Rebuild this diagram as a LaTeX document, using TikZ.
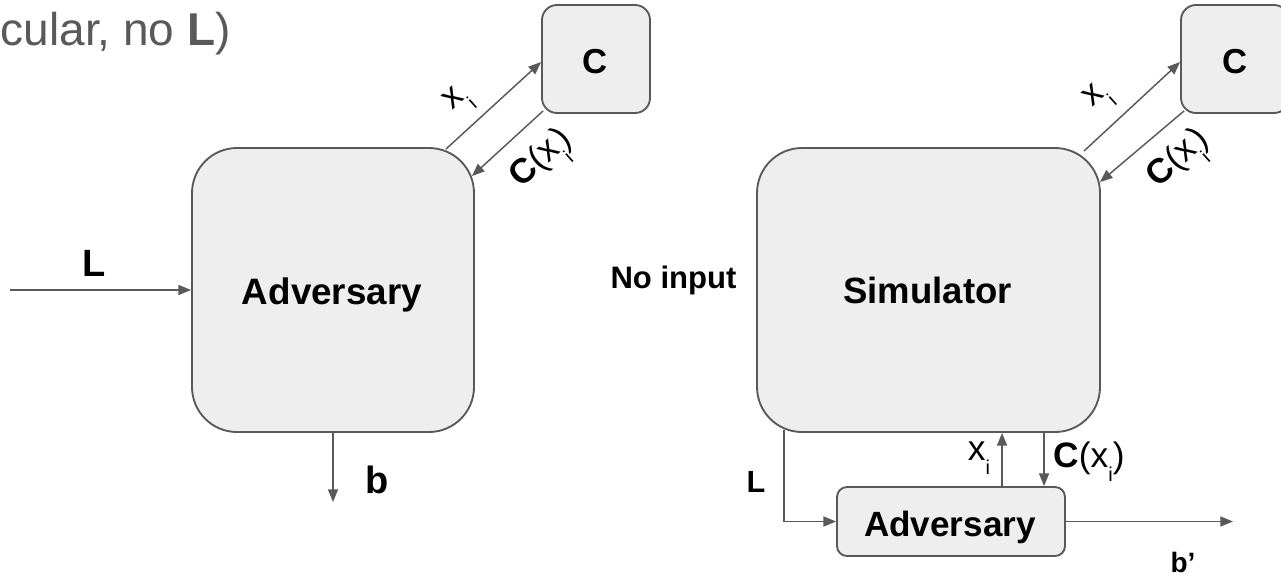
\documentclass[tikz,border=0pt]{standalone}
\usepackage{fontspec}
\setmainfont{Liberation Sans}
\usetikzlibrary{arrows.meta,calc}
\definecolor{ink}{HTML}{595959}
\definecolor{boxfill}{HTML}{EEEEEE}
\newcommand\fsz[1]{\fontsize{#1}{#1}\selectfont}
% lowered small subscript
\newcommand\lsub[2]{\raisebox{-0.42em}{\fontsize{#1}{#1}\selectfont #2}}
\tikzset{
  rbox/.style={draw=ink, line width=1.4pt, fill=boxfill, rounded corners=#1, inner sep=0pt},
  flow/.style={draw=ink, line width=1.1pt, -{Triangle[length=9.5pt,width=7.5pt]}},
  lbl/.style={inner sep=0pt, anchor=base},
  rlbl/.style={inner sep=0pt, rotate=42, font=\fsz{26pt}},
}
\begin{document}
\begin{tikzpicture}[x=0.75pt,y=-0.75pt]
\useasboundingbox (0,0) rectangle (1281,583);
\clip (0,0) rectangle (1281,583);

% boxes
\node[rbox=33.75pt, minimum width=211.5pt, minimum height=213pt] (adv) at (333,290) {};
\node[rbox=33.75pt, minimum width=257.25pt, minimum height=213pt] (sim) at (928.5,290) {};
\node[rbox=11.25pt, minimum width=81pt, minimum height=81pt] (c1) at (596,59) {};
\node[rbox=11.25pt, minimum width=81pt, minimum height=81pt] (c2) at (1235,59) {};
\node[rbox=7.5pt, minimum width=171pt, minimum height=51.75pt] (sadv) at (951,521.5) {};

% box captions
\node[lbl, font=\bfseries\fsz{27.6pt}] (advt) at (332,304) {Adversary};
\node[lbl, font=\bfseries\fsz{27.4pt}] (simt) at (927.5,303) {Simulator};
\node[lbl, font=\bfseries\fsz{26.3pt}] (sadvt) at (950,536) {Adversary};
\node[lbl, font=\bfseries\fsz{26pt}] (c1t) at (595,73) {C};
\node[lbl, font=\bfseries\fsz{26pt}] (c2t) at (1235,73) {C};

% free labels
\node[lbl, anchor=base east, text=ink, font=\fsz{34.5pt}] (ttl) at (231,45) {cular, no \textbf{L})};
\node[lbl, font=\bfseries\fsz{23.3pt}] (noin) at (673.5,288) {No input};
\node[lbl, font=\bfseries\fsz{28.5pt}] (lin) at (94,276) {L};
\node[lbl, font=\bfseries\fsz{28.5pt}] (bl) at (377.5,493) {b};
\node[lbl, font=\bfseries\fsz{23pt}] (lbot) at (756,492) {L};
\node[lbl, font=\bfseries\fsz{21pt}] (bp) at (1183,572) {b’};
\node[lbl, font=\fsz{26.5pt}] (xbot) at (979,460) {x\lsub{15pt}{i}};
\node[lbl, font=\fsz{26.5pt}] (cbot) at (1089,467) {\textbf{C}(x\lsub{15pt}{i})};

% rotated labels on the diagonal links
\node[rlbl] (lxi) at (459,102) {x\lsub{15pt}{i}};
\node[rlbl] (lcx) at (544,161) {\textbf{C}(x\lsub{15pt}{i})};
\node[rlbl] (rxi) at (1099,99) {x\lsub{15pt}{i}};
\node[rlbl] (rcx) at (1181,161) {\textbf{C}(x\lsub{15pt}{i})};

% connectors
\coordinate (lsrc) at (10,290);
\coordinate (bend) at (333,502);
\coordinate (bpend) at (1233,521.5);
\draw[flow] (lsrc) -- (adv);
\draw[flow] (adv) -- (bend);
\draw[flow] ($(adv.north east)+(-29,2)$) -- ($(c1.west)+(0,3)$);
\draw[flow] ($(c1.south west)+(2,-3)$) -- ($(adv.north east)+(-3,29)$);
\draw[flow] ($(sim.north east)+(-17,4)$) -- ($(c2.west)+(0,3)$);
\draw[flow] ($(c2.south west)+(4,-3)$) -- ($(sim.north east)+(-1,35)$);
\draw[flow] ($(sim.south west)+(28,-3)$) |- (sadv.west);
\draw[flow] ($(sadv.north west)+(166,0)$) coordinate (up) -- (up |- sim.south);
\draw[flow] ($(sim.south west)+(288,0)$) coordinate (dn) -- (dn |- sadv.north);
\draw[flow] (sadv) -- (bpend);
\end{tikzpicture}
\end{document}
